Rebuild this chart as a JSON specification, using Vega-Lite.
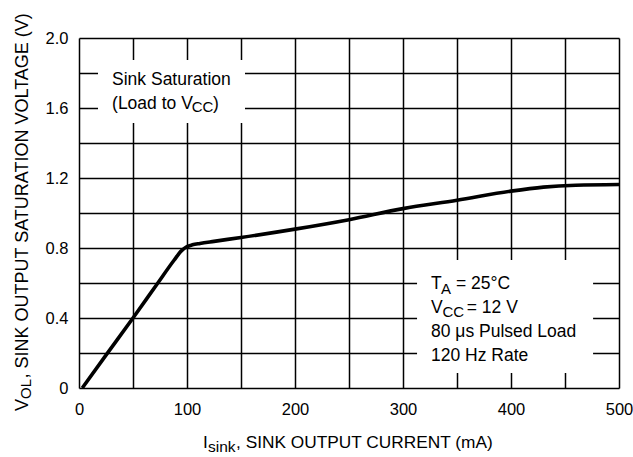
{
  "$schema": "https://vega.github.io/schema/vega-lite/v6.json",
  "width": 540,
  "height": 350,
  "autosize": "none",
  "padding": {"left": 79, "top": 38, "right": 14, "bottom": 69},
  "background": "#ffffff",
  "config": {"view": {"stroke": null}},
  "datasets": {
    "curve": [
      {"x": 3, "y": 0}, {"x": 25, "y": 0.188}, {"x": 50, "y": 0.4}, {"x": 73, "y": 0.6},
      {"x": 88, "y": 0.73}, {"x": 95, "y": 0.785}, {"x": 100, "y": 0.808}, {"x": 105, "y": 0.818},
      {"x": 112, "y": 0.826}, {"x": 125, "y": 0.838}, {"x": 150, "y": 0.86}, {"x": 200, "y": 0.908},
      {"x": 250, "y": 0.962}, {"x": 300, "y": 1.025}, {"x": 350, "y": 1.073}, {"x": 400, "y": 1.125},
      {"x": 430, "y": 1.148}, {"x": 460, "y": 1.159}, {"x": 500, "y": 1.163}
    ],
    "boxes": [
      {"x": 17.6, "x2": 153.7, "y": 1.514, "y2": 1.874},
      {"x": 313, "x2": 476, "y": 0.086, "y2": 0.731}
    ],
    "txt": [
      {"t": "Sink Saturation", "x": 30.6, "y": 1.733},
      {"t": "(Load to V", "x": 30.6, "y": 1.596},
      {"t": ")", "x": 124, "y": 1.596},
      {"t": "T", "x": 325.9, "y": 0.564},
      {"t": "= 25°C", "x": 349.1, "y": 0.564},
      {"t": "V", "x": 325.9, "y": 0.427},
      {"t": "= 12 V", "x": 359, "y": 0.427},
      {"t": "80 μs Pulsed Load", "x": 325.9, "y": 0.293},
      {"t": "120 Hz Rate", "x": 325.9, "y": 0.156}
    ],
    "sub": [
      {"t": "CC", "x": 104.3, "y": 1.577},
      {"t": "A", "x": 335.2, "y": 0.537},
      {"t": "CC", "x": 336.5, "y": 0.407}
    ],
    "xt": [
      {"t": "I", "x": 114.8, "y": 0},
      {"t": ", SINK OUTPUT CURRENT (mA)", "x": 145.4, "y": 0}
    ],
    "xs": [
      {"t": "sink", "x": 119.4, "y": 0}
    ],
    "yt": [
      {"t": "V", "x": 0, "y": -0.131},
      {"t": ", SINK OUTPUT SATURATION VOLTAGE (V)", "x": 0, "y": 0.054}
    ],
    "ys": [
      {"t": "OL", "x": 0, "y": -0.063}
    ]
  },
  "encoding": {
    "x": {
      "field": "x", "type": "quantitative",
      "scale": {"domain": [0, 500], "nice": false, "zero": false},
      "axis": {
        "values": [0, 50, 100, 150, 200, 250, 300, 350, 400, 450, 500],
        "labelExpr": "datum.value % 100 === 0 ? datum.label : ''",
        "grid": true, "gridColor": "#000000", "gridWidth": 1.5, "gridOpacity": 1,
        "ticks": false, "domain": false,
        "labelFont": "Liberation Sans", "labelFontSize": 16.5, "labelColor": "#000000",
        "labelPadding": 13, "labelFlush": false, "labelOverlap": false,
        "title": null
      }
    },
    "y": {
      "field": "y", "type": "quantitative",
      "scale": {"domain": [0, 2], "nice": false, "zero": false},
      "axis": {
        "values": [0, 0.2, 0.4, 0.6, 0.8, 1.0, 1.2, 1.4, 1.6, 1.8, 2.0],
        "labelExpr": "datum.value === 0 ? '0' : (round(datum.value * 10) % 4 === 0 ? format(datum.value, '.1f') : '')",
        "grid": true, "gridColor": "#000000", "gridWidth": 1.5, "gridOpacity": 1,
        "ticks": false, "domain": false,
        "labelFont": "Liberation Sans", "labelFontSize": 16.5, "labelColor": "#000000",
        "labelPadding": 11, "labelFlush": false, "labelOverlap": false,
        "title": null
      }
    }
  },
  "layer": [
    {
      "data": {"name": "boxes"},
      "mark": {"type": "rect", "fill": "#ffffff", "stroke": null},
      "encoding": {"x2": {"field": "x2"}, "y2": {"field": "y2"}}
    },
    {
      "data": {"name": "curve"},
      "mark": {"type": "line", "color": "#000000", "strokeWidth": 3.6, "interpolate": "monotone", "strokeCap": "butt"},
      "encoding": {}
    },
    {
      "data": {"name": "txt"},
      "mark": {"type": "text", "font": "Liberation Sans", "fontSize": 17.5, "align": "left", "baseline": "alphabetic", "color": "#000000"},
      "encoding": {"text": {"field": "t"}}
    },
    {
      "data": {"name": "sub"},
      "mark": {"type": "text", "font": "Liberation Sans", "fontSize": 15, "align": "left", "baseline": "alphabetic", "color": "#000000"},
      "encoding": {"text": {"field": "t"}}
    },
    {
      "data": {"name": "xt"},
      "mark": {"type": "text", "font": "Liberation Sans", "fontSize": 17.3, "align": "left", "baseline": "alphabetic", "color": "#000000", "dy": 60},
      "encoding": {"text": {"field": "t"}}
    },
    {
      "data": {"name": "xs"},
      "mark": {"type": "text", "font": "Liberation Sans", "fontSize": 15.5, "align": "left", "baseline": "alphabetic", "color": "#000000", "dy": 64},
      "encoding": {"text": {"field": "t"}}
    },
    {
      "data": {"name": "yt"},
      "mark": {"type": "text", "font": "Liberation Sans", "fontSize": 18, "align": "left", "baseline": "alphabetic", "color": "#000000", "angle": 270, "dy": -51.5},
      "encoding": {"text": {"field": "t"}}
    },
    {
      "data": {"name": "ys"},
      "mark": {"type": "text", "font": "Liberation Sans", "fontSize": 15, "align": "left", "baseline": "alphabetic", "color": "#000000", "angle": 270, "dy": -48},
      "encoding": {"text": {"field": "t"}}
    }
  ]
}
